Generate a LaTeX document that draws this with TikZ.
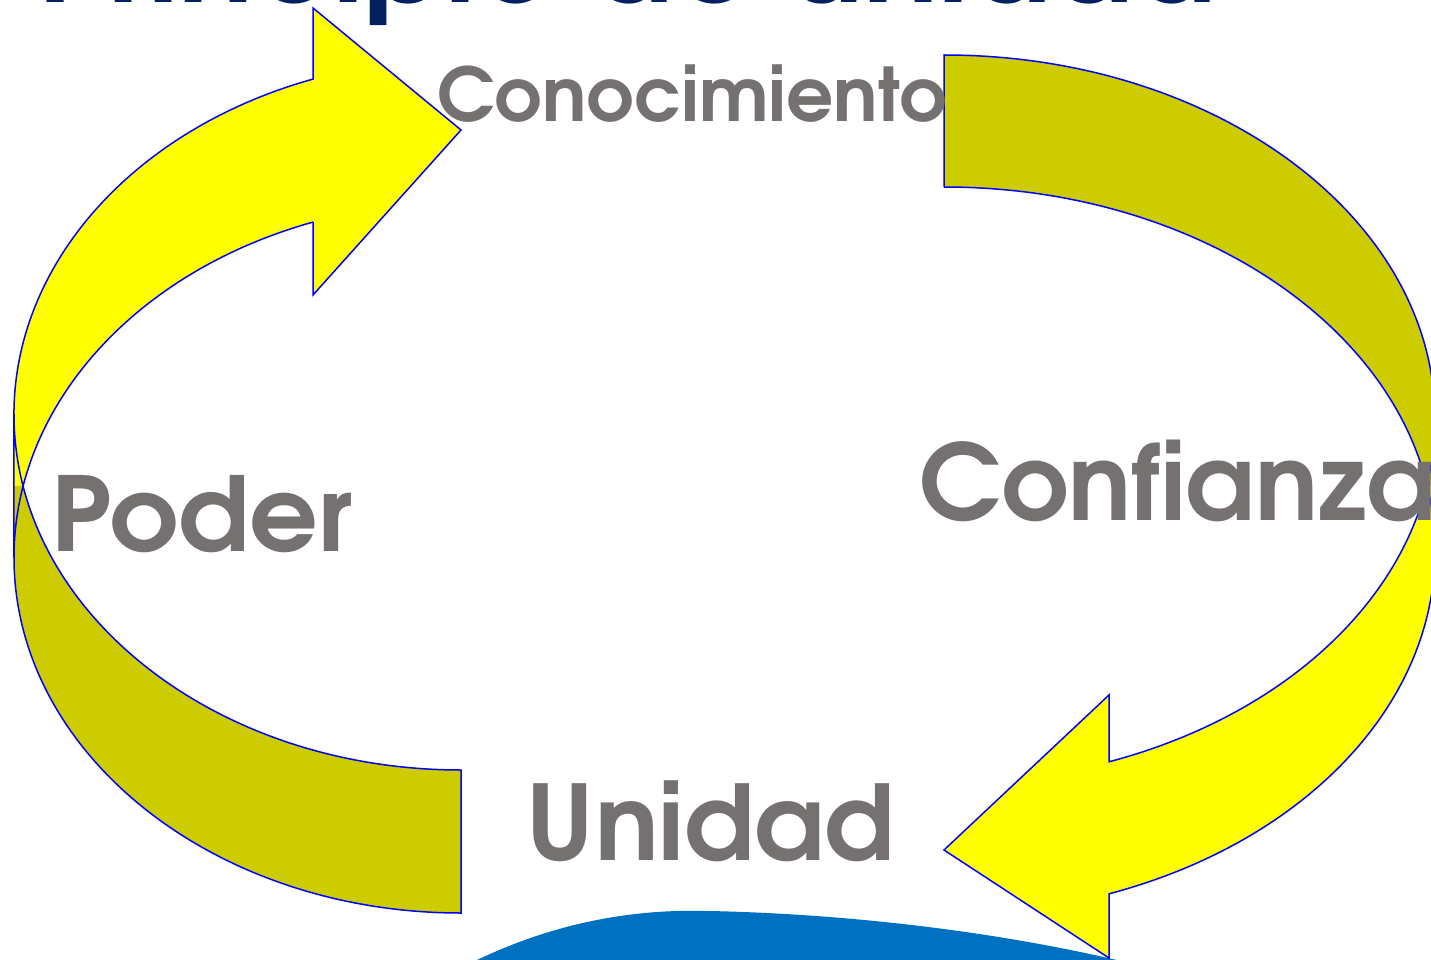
\documentclass[tikz,border=0pt]{standalone}
\usepackage{fontspec}
\newfontfamily\gothic{TeX Gyre Adventor}
\usetikzlibrary{calc}
\definecolor{yel}{HTML}{FFFF00}
\definecolor{oli}{HTML}{CCCC00}
\definecolor{edgeblue}{HTML}{0000FF}
\definecolor{txtgray}{HTML}{767171}
\definecolor{navy}{HTML}{002060}
\definecolor{domeblue}{HTML}{0070C0}
\begin{document}
\begin{tikzpicture}[x=1pt,y=-1pt,
  outline/.style={draw=edgeblue, line width=1.5pt, line join=miter},
  lel/.style={x radius=447, y radius=355.5},
  rel/.style={x radius=491, y radius=364},
  lbl/.style={text=txtgray, inner sep=0pt, anchor=base west}]
\useasboundingbox (0,0) rectangle (1431,960);
\clip (0,0) rectangle (1431,960);

% blue dome
\fill[domeblue] (470,975) -- (477,960) .. controls (565,918) and (645,909) .. (710,911) .. controls (850,914) and (1000,932) .. (1125,962) -- (1130,975) -- cycle;

% left arrow fills
\fill[yel] (313,79.1) arc[start angle=250.67,end angle=180,lel] -- (14,486) -- (23.2,486) arc[start angle=191.6,end angle=250.67,lel] -- (313,295) -- (461,130) -- (313,8) -- cycle;
\fill[oli] (14,486) -- (14,557.5) arc[start angle=180,end angle=90,lel] -- (461,770) arc[start angle=90,end angle=168.4,lel] -- cycle;
% left arrow outline
\draw[outline] (313,222) -- (313,295) -- (461,130) -- (313,8) -- (313,79.1) arc[start angle=250.67,end angle=180,lel] -- (14,557.5) arc[start angle=180,end angle=90,lel] -- (461,770) arc[start angle=90,end angle=180,lel];
\draw[outline] (14,557.5) arc[start angle=180,end angle=250.67,lel];

% right arrow fills
\fill[oli] (944,55) arc[start angle=270,end angle=360,rel] -- (1435,485) -- (1426.8,485) arc[start angle=349.55,end angle=270,rel] -- cycle;
\fill[yel] (1435,485) -- (1435,551) arc[start angle=0,end angle=70.36,rel] -- (1109,958) -- (944,850) -- (1109,695) -- (1109,761.8) arc[start angle=70.36,end angle=10.45,rel] -- cycle;
% right arrow outline
\draw[outline] (944,187) -- (944,55) arc[start angle=270,end angle=360,rel] -- (1435,551) arc[start angle=0,end angle=70.36,rel] -- (1109,958) -- (944,850) -- (1109,695) -- (1109,761.8) arc[start angle=70.36,end angle=0,rel];
\draw[outline] (944,187) arc[start angle=270,end angle=360,rel];

% labels
\node[lbl, font=\gothic\bfseries\fontsize{74}{74}\selectfont] (conoc) at (437,122) {Conocimiento};
\node[lbl, font=\gothic\bfseries\fontsize{103}{103}\selectfont] (poder) at (51,551) {\scalebox{1.045}[1]{Poder}};
\node[lbl, font=\gothic\bfseries\fontsize{105}{105}\selectfont] (confi) at (919,520.5) {Confianza};
\node[lbl, font=\gothic\bfseries\fontsize{104}{104}\selectfont] (unid) at (526,860.7) {\scalebox{1.02}[1]{Unidad}};
\node[lbl, text=navy, font=\gothic\bfseries\fontsize{125}{125}\selectfont] (title) at (38,3) {Principio de unidad};
\end{tikzpicture}
\end{document}
